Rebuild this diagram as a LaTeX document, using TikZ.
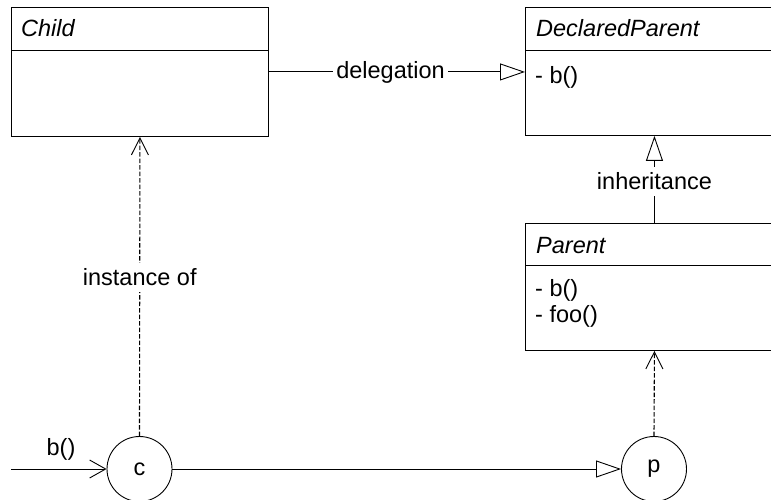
\documentclass[tikz,border=0pt]{standalone}
\usepackage{fontspec}
\setmainfont{Liberation Sans}
\usetikzlibrary{arrows.meta}
\begin{document}
\begin{tikzpicture}[x=1pt,y=-1pt,
  every node/.style={font=\fontsize{23.5}{28}\selectfont, inner sep=0pt},
  umlbox/.style={draw, line width=0.9pt, anchor=north west, minimum width=#1},
  conn/.style={line width=0.9pt},
  inherit/.style={conn, -{Triangle[open,length=25pt,width=17pt]}},
  usedash/.style={conn, line width=1.1pt, dash pattern=on 4.5pt off 2pt, -{Straight Barb[length=17pt,width=17pt,line width=0.9pt]}},
  obj/.style={draw, circle, line width=0.9pt, minimum size=65pt},
  lbl/.style={fill=white, inner xsep=4pt, inner ysep=6pt}
]
\clip (0,0) rectangle (771,500);
\useasboundingbox (0,0) rectangle (771,500);
% class boxes
\node[umlbox=257pt, minimum height=129pt] (child) at (11,7) {};
\node[umlbox=258pt, minimum height=128pt] (dp) at (525,7) {};
\node[umlbox=258pt, minimum height=127pt] (parent) at (525,223) {};
\draw[conn] (11,50) -- (268,50);
\draw[conn] (525,50) -- (783,50);
\draw[conn] (525,265) -- (783,265);
\node[anchor=base west] (childname) at (21,37) {\itshape Child};
\node[anchor=base west] (dpname) at (536,37) {\itshape DeclaredParent};
\node[anchor=base west] (dpop) at (535,84) {- b()};
\node[anchor=base west] (parentname) at (536,253) {\itshape Parent};
\node[anchor=base west] (pop1) at (535,296) {- b()};
\node[anchor=base west] (pop2) at (535,322) {- foo()};
% objects
\node[obj] (c) at (139.5,469) {c};
\node[obj] (p) at (654,469) {p};
\coordinate (start) at (11,469);
% connectors
\draw[inherit] (child.east) -- (child.east -| dp.west)
  node[pos=0.475, lbl, inner xsep=3pt, inner ysep=2pt] (dlg) {delegation};
\draw[inherit] (parent.north) -- (dp.south)
  node[pos=0.48, lbl] (inh) {inheritance};
\draw[usedash] (c.north) -- (child.south)
  node[pos=0.53, lbl] (inst) {instance of};
\draw[usedash] (p.north) -- (parent.south);
\draw[conn, -{Straight Barb[length=16pt,width=18pt]}] (start) -- (c.west);
\node (bcall) at (61,449) {b()};
\draw[inherit] (c.east) -- (p.west);
\end{tikzpicture}
\end{document}
